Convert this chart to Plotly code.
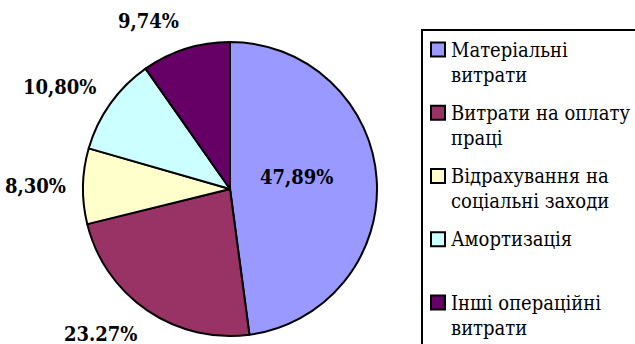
import math
import plotly.graph_objects as go

# Cost structure shares, %
categories = [
    "Матеріальні витрати",
    "Витрати на оплату праці",
    "Відрахування на соціальні заходи",
    "Амортизація",
    "Інші операційні витрати",
]
legend_lines = [
    ["Матеріальні", "витрати"],
    ["Витрати на оплату", "праці"],
    ["Відрахування на", "соціальні заходи"],
    ["Амортизація"],
    ["Інші операційні", "витрати"],
]
shares = [47.89, 23.27, 8.30, 10.80, 9.74]
decimal_marks = [",", ".", ",", ",", ","]
colors = ["#9999FF", "#993366", "#FFFFCC", "#CCFFFF", "#660066"]

# Page geometry (pixels)
W, H = 635, 344
CX, CY, R = 230, 189, 147          # pie centre and radius
LABEL_PAD = 15                      # gap between rim and outside labels
SERIF = "DejaVu Serif Condensed"


def px_x(x):
    return x / W


def px_y(y):
    return 1 - y / H


fig = go.Figure(
    go.Pie(
        labels=categories,
        values=shares,
        sort=False,
        direction="clockwise",
        rotation=0,
        marker=dict(colors=colors, line=dict(color="black", width=2)),
        textinfo="none",
        hoverinfo="label+percent",
        showlegend=False,
        domain=dict(x=[px_x(CX - R), px_x(CX + R)], y=[px_y(CY + R), px_y(CY - R)]),
    )
)

annotations = []
shapes = []

# Percentage labels placed along each slice's mid-angle
total = sum(shares)
cum = 0.0
for v, mark in zip(shares, decimal_marks):
    mid = (cum + v / 2) / total * 2 * math.pi
    cum += v
    ux, uy = math.sin(mid), -math.cos(mid)
    text = f"{v:.2f}".replace(".", mark) + "%"
    if v / total > 0.25:
        x, y, xa = CX + 0.45 * R * ux, CY + 0.45 * R * uy - 8, "center"
    else:
        x = CX + (R + LABEL_PAD) * ux
        y = CY + (R + LABEL_PAD) * uy + 14 * uy
        xa = "right" if ux < 0 else "left"
    annotations.append(dict(
        text=f"<b>{text}</b>", x=px_x(x), y=px_y(y), xref="paper", yref="paper",
        xanchor=xa, yanchor="middle", showarrow=False,
        font=dict(family=SERIF, size=20, color="black"),
    ))

# Legend box
LEG_X, LEG_Y = 422, 30
shapes.append(dict(
    type="rect", xref="paper", yref="paper",
    x0=px_x(LEG_X), x1=px_x(W + 20), y0=px_y(H + 20), y1=px_y(LEG_Y),
    line=dict(color="black", width=2), fillcolor="rgba(0,0,0,0)",
))

FIRST_BASELINE, ENTRY_PITCH, LINE_PITCH = 57, 63.25, 25
for i, (lines, col) in enumerate(zip(legend_lines, colors)):
    base = FIRST_BASELINE + i * ENTRY_PITCH
    cap_mid = base - 7.5
    shapes.append(dict(
        type="rect", xref="paper", yref="paper",
        x0=px_x(431), x1=px_x(445), y0=px_y(cap_mid + 7), y1=px_y(cap_mid - 7),
        line=dict(color="black", width=2), fillcolor=col,
    ))
    for j, line in enumerate(lines):
        annotations.append(dict(
            text=line, x=px_x(449), y=px_y(cap_mid + j * LINE_PITCH),
            xref="paper", yref="paper", xanchor="left", yanchor="middle",
            showarrow=False, font=dict(family=SERIF, size=20, color="black"),
        ))

fig.update_layout(
    width=W, height=H, autosize=False,
    margin=dict(l=0, r=0, t=0, b=0),
    paper_bgcolor="white", plot_bgcolor="white",
    font=dict(family=SERIF),
    annotations=annotations, shapes=shapes,
)

fig.write_html("out.html")
